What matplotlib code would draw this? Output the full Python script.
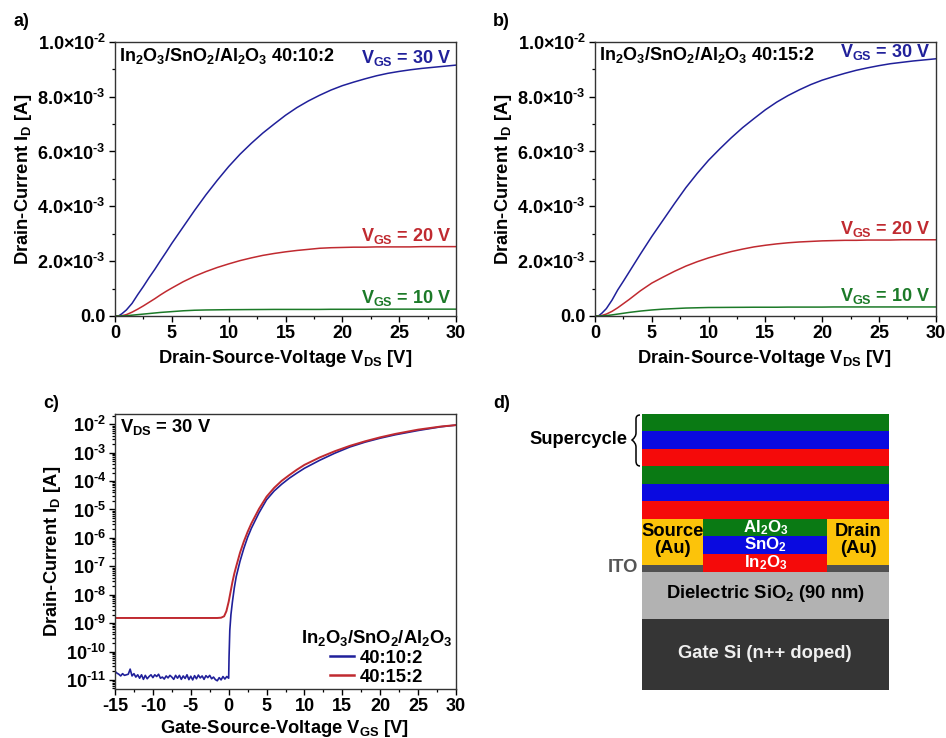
import numpy as np
import matplotlib
matplotlib.use("Agg")
import matplotlib.pyplot as plt
from matplotlib.patches import Rectangle, PathPatch
from matplotlib.path import Path
from matplotlib.ticker import MultipleLocator, FixedLocator, NullFormatter, FuncFormatter

plt.rcParams.update({
    "font.family": "Liberation Sans", "font.weight": "bold", "font.size": 13,
    "axes.labelweight": "bold", "axes.linewidth": 1.0, "axes.edgecolor": "#333333",
    "axes.unicode_minus": False,
    "mathtext.fontset": "custom", "mathtext.rm": "Liberation Sans:bold",
    "mathtext.bf": "Liberation Sans:bold", "mathtext.it": "Liberation Sans:bold",
    "mathtext.sf": "Liberation Sans:bold", "mathtext.default": "rm",
})

BLUE, RED, GREEN = "#20209a", "#c02a30", "#1c7a28"
W, H = 946, 738
FS = 13.2

# ---- output curves: drain-source voltage, current in mA
vds_hi = [0, 0.3, 0.6, 1, 1.5, 2, 2.5, 3, 3.5, 4, 4.5, 5, 6, 7, 8, 9, 10, 11, 12, 13, 14, 15, 16, 17, 18, 19, 20, 21, 22, 23, 24, 25, 26, 27, 28, 29, 30]
a_vgs30 = [0, 0, 0.08, 0.22, 0.46, 0.78, 1.08, 1.4, 1.7, 2.02, 2.33, 2.65, 3.25, 3.85, 4.42, 4.95, 5.45, 5.9, 6.3, 6.67, 7.0, 7.32, 7.6, 7.84, 8.05, 8.24, 8.4, 8.53, 8.65, 8.76, 8.85, 8.92, 8.98, 9.03, 9.07, 9.11, 9.15]
b_vgs30 = [0, 0, 0.1, 0.27, 0.58, 0.95, 1.27, 1.6, 1.93, 2.26, 2.58, 2.9, 3.5, 4.1, 4.68, 5.2, 5.68, 6.1, 6.5, 6.87, 7.2, 7.52, 7.8, 8.04, 8.25, 8.44, 8.6, 8.73, 8.85, 8.96, 9.05, 9.13, 9.2, 9.25, 9.3, 9.34, 9.38]
a_vgs20 = [0, 0, 0.01, 0.05, 0.14, 0.25, 0.37, 0.5, 0.63, 0.77, 0.9, 1.02, 1.25, 1.45, 1.62, 1.77, 1.9, 2.02, 2.12, 2.21, 2.28, 2.34, 2.39, 2.43, 2.47, 2.49, 2.5, 2.51, 2.51, 2.52, 2.52, 2.52, 2.52, 2.53, 2.53, 2.53, 2.53]
b_vgs20 = [0, 0, 0.02, 0.07, 0.17, 0.3, 0.45, 0.6, 0.76, 0.92, 1.06, 1.2, 1.42, 1.63, 1.82, 1.98, 2.12, 2.24, 2.35, 2.44, 2.52, 2.58, 2.63, 2.67, 2.7, 2.72, 2.74, 2.75, 2.76, 2.76, 2.77, 2.77, 2.77, 2.78, 2.78, 2.78, 2.78]
a_vgs10 = [0, 0, 0.003, 0.01, 0.03, 0.05, 0.07, 0.09, 0.11, 0.13, 0.145, 0.16, 0.19, 0.21, 0.22, 0.225, 0.23, 0.232, 0.235, 0.237, 0.24, 0.24, 0.24, 0.24, 0.24, 0.245, 0.245, 0.245, 0.245, 0.25, 0.25, 0.25, 0.25, 0.25, 0.25, 0.25, 0.25]
b_vgs10 = [0, 0, 0.005, 0.015, 0.04, 0.07, 0.1, 0.13, 0.155, 0.18, 0.2, 0.22, 0.25, 0.27, 0.29, 0.30, 0.31, 0.312, 0.315, 0.317, 0.32, 0.32, 0.32, 0.325, 0.325, 0.325, 0.325, 0.33, 0.33, 0.33, 0.33, 0.33, 0.33, 0.33, 0.33, 0.33, 0.33]

# ---- transfer curves: log10(current)
vgs_off = list(np.arange(-15, 0.01, 0.25))
log_off_blue = [-10.70, -10.76, -10.80, -10.86, -10.78, -10.84, -10.82, -10.80, -10.62, -10.86, -10.78, -10.90,
                -10.82, -10.94, -10.82, -10.98, -10.84, -10.96, -10.88, -10.82, -10.92, -10.82, -10.88, -10.80,
                -10.94, -10.90, -10.97, -10.86, -10.93, -10.84, -10.90, -10.98, -10.84, -10.94, -10.84, -10.98,
                -10.86, -10.95, -10.82, -10.99, -10.87, -11.0, -10.85, -10.96, -10.83, -10.93, -10.86, -10.98,
                -10.85, -10.92, -10.84, -10.96, -10.90, -10.99, -11.03, -10.92, -11.0, -10.88, -10.97, -10.88, -10.94]
vgs_on = [0.05, 0.15, 0.3, 0.5, 0.75, 1, 1.5, 2, 2.5, 3, 4, 5, 6, 7, 8, 9, 10, 12, 14, 16, 18, 20, 22, 25, 28, 30]
log_on_blue = [-10.2, -9.25, -8.7, -8.24, -7.75, -7.36, -6.82, -6.37, -5.98, -5.66, -5.12, -4.66, -4.35, -4.11, -3.9, -3.72, -3.55, -3.27, -3.02, -2.8, -2.63, -2.49, -2.37, -2.22, -2.09, -2.03]
vgs_red = [-15, -5, -1.5, -1, -0.6, -0.3, 0, 0.25, 0.5, 0.75, 1, 1.5, 2, 2.5, 3, 4, 5, 6, 7, 8, 9, 10, 12, 14, 16, 18, 20, 22, 25, 28, 30]
log_red = [-8.82, -8.82, -8.82, -8.81, -8.76, -8.58, -8.25, -7.9, -7.55, -7.25, -7.0, -6.52, -6.13, -5.79, -5.49, -4.98, -4.55, -4.24, -3.99, -3.79, -3.6, -3.43, -3.17, -2.95, -2.76, -2.6, -2.46, -2.34, -2.19, -2.08, -2.03]

vds_ticks = [0, 5, 10, 15, 20, 25, 30]
vgs_ticks = [-15, -10, -5, 0, 5, 10, 15, 20, 25, 30]
id_ticks = [0, 2e-3, 4e-3, 6e-3, 8e-3, 1e-2]
id_labels = ["0.0", r"2.0×10$^{\text{-3}}$", r"4.0×10$^{\text{-3}}$", r"6.0×10$^{\text{-3}}$",
             r"8.0×10$^{\text{-3}}$", r"1.0×10$^{\text{-2}}$"]
decades = list(range(-11, -1))

# ---- device stack
stack_left, stack_right = 641.7, 889.0
contact_split = [703.3, 827.3]
layer_tops = [414, 431.3, 448.7, 466, 483.7, 501.3, 519, 536.3, 554]
layer_colors = ["#0a7a14", "#0a0ae0", "#f50a0a"] * 3
stack_bottom = 571.5

fig = plt.figure(figsize=(W / 100, H / 100), dpi=100)


def make_axes(l, t, r, b):
    return fig.add_axes([l / W, 1 - b / H, (r - l) / W, (b - t) / H])


def style(ax):
    ax.tick_params(which="major", direction="out", length=4.5, width=1.0, pad=2, labelsize=13)
    ax.tick_params(which="minor", direction="out", length=2.5, width=0.9)
    ax.tick_params(top=False, right=False, which="both")


def output_panel(l, r, c30, c20, c10):
    ax = make_axes(l, 41.8, r, 316)
    v = np.array(vds_hi)
    ax.plot(v, np.array(c30) * 1e-3, color=BLUE, lw=1.1)
    ax.plot(v, np.array(c20) * 1e-3, color=RED, lw=1.1)
    ax.plot(v, np.array(c10) * 1e-3, color=GREEN, lw=1.1)
    ax.set_xlim(0, 30)
    ax.set_ylim(0, 1e-2)
    ax.set_xticks(vds_ticks)
    ax.xaxis.set_minor_locator(MultipleLocator(2.5))
    ax.set_yticks(id_ticks, id_labels)
    ax.yaxis.set_minor_locator(MultipleLocator(1e-3))
    style(ax)
    ax.set_xlabel(r"Drain-Source-Voltage V$_{\mathrm{DS}}$ [V]", fontsize=FS)
    ax.xaxis.set_label_coords(0.498, -0.117)
    ax.set_ylabel(r"Drain-Current I$_{\mathrm{D}}$ [A]", fontsize=FS)
    ax.yaxis.set_label_coords(-0.238, 0.5)
    return ax


ax_a = output_panel(115, 456, a_vgs30, a_vgs20, a_vgs10)
ax_b = output_panel(595, 935.7, b_vgs30, b_vgs20, b_vgs10)

# panel c
ax_c = make_axes(115, 414.3, 456, 689)
ax_c.plot(vgs_off + vgs_on, 10.0 ** np.array(log_off_blue + log_on_blue), color=BLUE, lw=1.2, label="40:10:2")
ax_c.plot(vgs_red, 10.0 ** np.array(log_red), color=RED, lw=1.4, label="40:15:2")
ax_c.set_yscale("log")
ax_c.set_xlim(-15, 30)
ax_c.set_ylim(10 ** -11.32, 10 ** -1.65)
ax_c.set_xticks(vgs_ticks)
ax_c.xaxis.set_minor_locator(MultipleLocator(2.5))
ax_c.yaxis.set_major_locator(FixedLocator([10.0 ** d for d in decades]))
ax_c.yaxis.set_major_formatter(FuncFormatter(lambda y, _: r"10$^{\text{%d}}$" % round(np.log10(y))))
ax_c.yaxis.set_minor_locator(FixedLocator([m * 10.0 ** d for d in range(-12, -1) for m in range(2, 10)]))
ax_c.yaxis.set_minor_formatter(NullFormatter())
style(ax_c)
ax_c.tick_params(which="minor", axis="y", length=2)
ax_c.set_xlabel(r"Gate-Source-Voltage V$_{\mathrm{GS}}$ [V]", fontsize=FS)
ax_c.xaxis.set_label_coords(0.498, -0.105)
ax_c.set_ylabel(r"Drain-Current I$_{\mathrm{D}}$ [A]", fontsize=FS)
ax_c.yaxis.set_label_coords(-0.152, 0.5)
leg = ax_c.legend(title=r"In$_2$O$_3$/SnO$_2$/Al$_2$O$_3$", frameon=False, fontsize=FS, title_fontsize=FS,
                  loc="lower right", bbox_to_anchor=(0.99, 0.012), borderaxespad=0, borderpad=0,
                  handlelength=1.3, handletextpad=0.3, labelspacing=0.1)
for h in leg.get_lines():
    h.set_linewidth(1.8)

# overlay in reference pixel units: annotations and device schematic
ov = fig.add_axes([0, 0, 1, 1], facecolor="none")
ov.set_xlim(0, W)
ov.set_ylim(H, 0)
ov.axis("off")


def txt(x, y, s, color="black", size=FS, ha="left", **kw):
    ov.text(x, y, s, color=color, fontsize=size, ha=ha, va="center", **kw)


for x, y, s in [(13, 22, "a)"), (493, 22, "b)"), (43, 404, "c)"), (493, 404, "d)")]:
    txt(x, y, s, size=13)
OX = r"In$_2$O$_3$/SnO$_2$/Al$_2$O$_3$ "
txt(118.5, 56, OX + "40:10:2", size=13)
txt(598.5, 55, OX + "40:15:2", size=13)
txt(120, 427, r"V$_{\mathrm{DS}}$ = 30 V")
for xr, ys in [(451.5, (58, 236, 298)), (930.5, (52, 229, 296))]:
    for y, c, s in zip(ys, (BLUE, RED, GREEN), ("30", "20", "10")):
        txt(xr, y, r"V$_{\mathrm{GS}}$ = %s V" % s, color=c, ha="right", size=13)

# device stack
for i, (top, col) in enumerate(zip(layer_tops, layer_colors)):
    bottom = layer_tops[i + 1] if i + 1 < len(layer_tops) else stack_bottom
    l, w = (stack_left, stack_right - stack_left) if i < 6 else (contact_split[0], contact_split[1] - contact_split[0])
    ov.add_patch(Rectangle((l, top), w, bottom - top, fc=col, ec="none"))
for l, r in [(stack_left, contact_split[0]), (contact_split[1], stack_right)]:
    ov.add_patch(Rectangle((l, 519), r - l, 46, fc="#fcc30a", ec="none"))
    ov.add_patch(Rectangle((l, 565), r - l, 6.5, fc="#505050", ec="none"))
ov.add_patch(Rectangle((stack_left, 571.5), stack_right - stack_left, 47, fc="#b2b2b2", ec="none"))
ov.add_patch(Rectangle((stack_left, 618.5), stack_right - stack_left, 71.5, fc="#353535", ec="none"))

cx = (contact_split[0] + contact_split[1]) / 2
txt(cx, 527.5, r"Al$_2$O$_3$", color="white", ha="center", size=12.2)
txt(cx, 545, r"SnO$_2$", color="white", ha="center", size=12.2)
txt(cx, 563, r"In$_2$O$_3$", color="white", ha="center", size=12.2)
txt(672.5, 540, "Source\n(Au)", ha="center", linespacing=0.95)
txt(858, 540, "Drain\n(Au)", ha="center", linespacing=0.95)
txt(638, 568, "ITO", color="#555555", ha="right")
txt(765, 594, r"Dielectric SiO$_2$ (90 nm)", ha="center")
txt(765, 653, "Gate Si (n++ doped)", color="#f0f0f0", ha="center")
txt(627, 439, "Supercycle", ha="right")

brace = Path(
    [(640, 415), (636, 415), (636, 419), (636, 426), (636, 433), (636, 437), (632, 440),
     (636, 443), (636, 447), (636, 454), (636, 461), (636, 466), (640, 466)],
    [Path.MOVETO] + [Path.CURVE3] * 2 + [Path.LINETO, Path.LINETO] + [Path.CURVE3] * 2 +
    [Path.CURVE3] * 2 + [Path.LINETO, Path.LINETO] + [Path.CURVE3] * 2)
ov.add_patch(PathPatch(brace, fc="none", ec="black", lw=1.1))

fig.savefig("out.png", dpi=100, facecolor="white")
